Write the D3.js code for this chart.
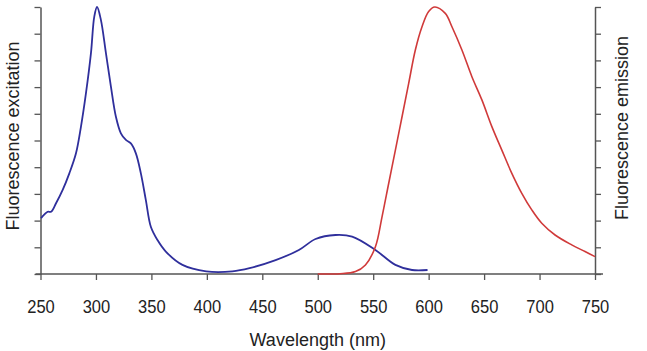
<!DOCTYPE html>
<html>
<head>
<meta charset="utf-8">
<script src="https://cdn.jsdelivr.net/npm/d3@7"></script>
<style>
  body { margin: 0; background: #fff; }
  svg text { font-family: "Liberation Sans", Arial, sans-serif; fill: #222; }
</style>
</head>
<body>
<div id="chart"></div>
<script>
// excitation spectrum (blue), wavelength in nm, intensity 0-10 (arbitrary units)
var excitationWl = [250.5, 256.5, 259.5, 264, 270, 276, 282, 286.5, 291, 295.5, 298.5, 301, 304.5, 309, 313.5, 318, 322.5, 327, 331.5, 336, 340.5, 345, 349.5, 355.5, 363, 378, 399.5, 423, 438.5, 462, 483, 498, 516, 531, 552, 570, 585, 599];
var excitationVal = [2.09, 2.33, 2.33, 2.65, 3.15, 3.77, 4.52, 5.52, 6.77, 8.27, 9.64, 10.0, 9.51, 8.27, 7.02, 5.89, 5.27, 5.02, 4.89, 4.52, 3.77, 2.77, 1.77, 1.27, 0.84, 0.34, 0.1, 0.1, 0.22, 0.52, 0.9, 1.31, 1.46, 1.4, 0.9, 0.34, 0.15, 0.15];

// emission spectrum (red)
var emissionWl = [500, 520, 534, 543, 552, 558, 564, 570, 576, 582, 588, 594, 600, 605.5, 615, 621, 630, 639, 648, 657, 666, 675, 684, 693, 702, 714, 729, 741, 750];
var emissionVal = [0, 0.01, 0.09, 0.34, 1.02, 2.15, 3.4, 4.64, 5.89, 7.14, 8.39, 9.26, 9.83, 10.0, 9.76, 9.26, 8.39, 7.39, 6.52, 5.52, 4.64, 3.77, 3.02, 2.4, 1.9, 1.46, 1.09, 0.84, 0.65];

var xTicks = [250, 300, 350, 400, 450, 500, 550, 600, 650, 700, 750];
var yTicks = [0, 1, 2, 3, 4, 5, 6, 7, 8, 9, 10];

var width = 647, height = 351;
var margin = {top: 7, right: 52, bottom: 77, left: 40.5};

var svg = d3.select("#chart").append("svg")
  .attr("width", width)
  .attr("height", height);

var x = d3.scaleLinear().domain([250, 750]).range([margin.left, width - margin.right]);
var y = d3.scaleLinear().domain([0, 10]).range([height - margin.bottom, margin.top]);

var axisColor = "#555";

// x axis
var xAxis = svg.append("g")
  .attr("transform", "translate(0," + y(0) + ")")
  .call(d3.axisBottom(x).tickValues(xTicks).tickSize(6).tickPadding(19.5).tickSizeOuter(0));
xAxis.select(".domain").remove();
xAxis.append("line")
  .attr("x1", x(250) - 5).attr("x2", x(750) + 8)
  .attr("stroke", axisColor).attr("stroke-width", 1.5);
xAxis.selectAll(".tick line").attr("stroke", axisColor).attr("stroke-width", 1.3);
xAxis.selectAll(".tick text")
  .style("font-size", "19px")
  .attr("fill", "#222")
  .attr("transform", "scale(0.87,1)");

// left axis
var yLeft = svg.append("g")
  .attr("transform", "translate(" + x(250) + ",0)")
  .call(d3.axisLeft(y).tickValues(yTicks).tickSize(6).tickFormat("").tickSizeOuter(0));
yLeft.select(".domain").attr("stroke", axisColor).attr("stroke-width", 1.5);
yLeft.selectAll(".tick line").attr("stroke", axisColor).attr("stroke-width", 1.3);

// right axis
var yRight = svg.append("g")
  .attr("transform", "translate(" + x(750) + ",0)")
  .call(d3.axisRight(y).tickValues(yTicks).tickSize(6).tickFormat("").tickSizeOuter(0));
yRight.select(".domain").attr("stroke", axisColor).attr("stroke-width", 1.5);
yRight.selectAll(".tick line").attr("stroke", axisColor).attr("stroke-width", 1.3);

// curves
var line = d3.line()
  .x(function(d) { return x(d[0]); })
  .y(function(d) { return y(d[1]); })
  .curve(d3.curveCatmullRom.alpha(0.5));

svg.append("path")
  .datum(d3.zip(excitationWl, excitationVal))
  .attr("fill", "none")
  .attr("stroke", "#2f2f9c")
  .attr("stroke-width", 1.8)
  .attr("d", line);

svg.append("path")
  .datum(d3.zip(emissionWl, emissionVal))
  .attr("fill", "none")
  .attr("stroke", "#d03a3a")
  .attr("stroke-width", 1.6)
  .attr("d", line);

// labels
svg.append("text")
  .attr("x", (x(250) + x(750)) / 2)
  .attr("y", 346)
  .attr("text-anchor", "middle")
  .style("font-size", "18px")
  .text("Wavelength (nm)");

svg.append("text")
  .attr("transform", "translate(19,136) rotate(-90)")
  .attr("text-anchor", "middle")
  .style("font-size", "18px")
  .text("Fluorescence excitation");

svg.append("text")
  .attr("transform", "translate(628,128) rotate(-90)")
  .attr("text-anchor", "middle")
  .style("font-size", "18px")
  .text("Fluorescence emission");
</script>
</body>
</html>
